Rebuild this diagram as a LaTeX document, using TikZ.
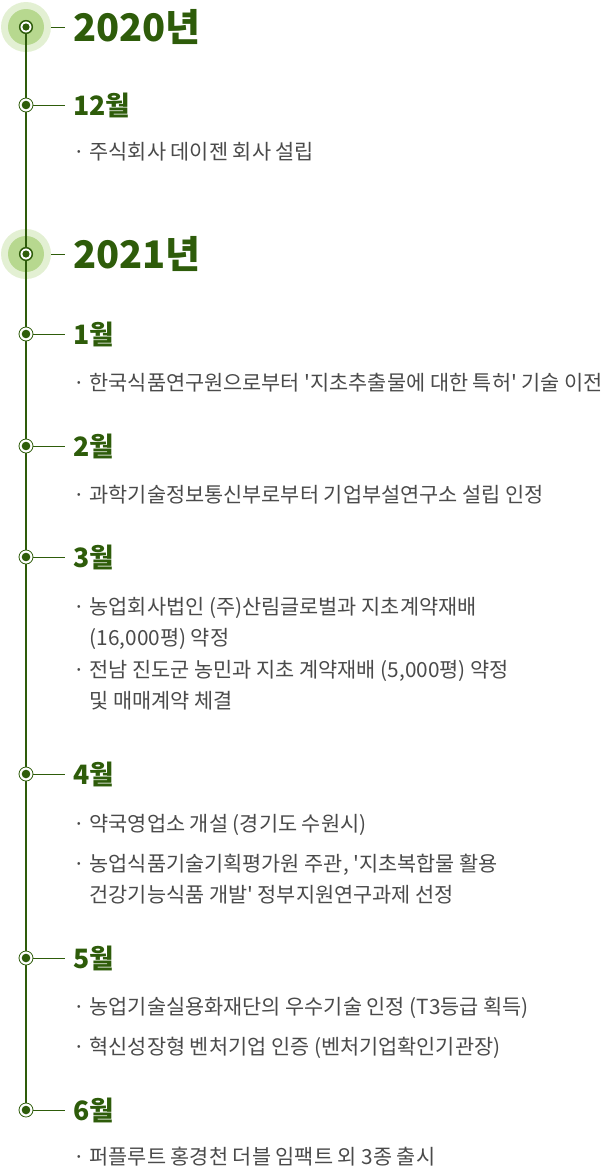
\documentclass[tikz,border=0pt]{standalone}
\usepackage{fontspec}
\setmainfont{Noto Sans CJK KR}
\usetikzlibrary{backgrounds}
\definecolor{leaf}{RGB}{46,92,10}
\definecolor{leafpale}{RGB}{227,240,211}
\definecolor{leaflight}{RGB}{183,216,143}
\definecolor{inktext}{RGB}{74,74,74}

\begin{document}
\begin{tikzpicture}[x=0.75pt,y=0.75pt,yscale=-1,xscale=1,
  halo/.style={circle,fill=leafpale,inner sep=0pt,minimum size=37.5pt},
  yearmark/.style={circle,draw=leaf,line width=1.1pt,fill=white,inner sep=0pt,minimum size=9.5pt},
  monthmark/.style={circle,draw=leaf,line width=0.6pt,fill=white,inner sep=0pt,minimum size=10.5pt},
  yeartitle/.style={anchor=west,inner sep=0pt,inner xsep=6pt,text=leaf,font=\fontsize{28.5}{30}\selectfont\bfseries},
  monthtitle/.style={anchor=west,inner sep=0pt,inner xsep=6pt,text=leaf,font=\fontsize{20}{22}\selectfont\bfseries},
  item/.style={anchor=base west,inner sep=0pt,align=left,text=inktext,font=\fontsize{15.6}{23.25}\selectfont},
  tick/.style={leaf,line width=0.75pt},
  spine/.style={leaf,line width=1.1pt}]
\useasboundingbox (0,0) rectangle (614,1172);

%Year Marks
\node [yearmark] (y20) at (26,27) {};
\node [yearmark] (y21) at (26,254) {};
\fill [leaf] (y20) circle [radius=3.6];
\fill [leaf] (y21) circle [radius=3.6];

%Month Marks
\node [monthmark] (m12) at (26,105) {};
\node [monthmark] (m1) at (26,334) {};
\node [monthmark] (m2) at (26,446) {};
\node [monthmark] (m3) at (26,557) {};
\node [monthmark] (m4) at (26,774) {};
\node [monthmark] (m5) at (26,958) {};
\node [monthmark] (m6) at (26,1110) {};
\fill [leaf] (m12) circle [radius=4.3];
\fill [leaf] (m1) circle [radius=4.3];
\fill [leaf] (m2) circle [radius=4.3];
\fill [leaf] (m3) circle [radius=4.3];
\fill [leaf] (m4) circle [radius=4.3];
\fill [leaf] (m5) circle [radius=4.3];
\fill [leaf] (m6) circle [radius=4.3];

%Halos and Spine
\begin{scope}[on background layer]
\node [halo] (y20h) at (y20) {};
\node [halo] (y21h) at (y21) {};
\fill [leaflight] (y20) circle [radius=18];
\fill [leaflight] (y21) circle [radius=18];
\draw [spine] (y20.center) -- (m6.center);
\end{scope}

% Text Node
\node [yeartitle] (t20) at (65,27) {2020년};
% Text Node
\node [yeartitle] (t21) at (65,254) {2021년};
% Text Node
\node [monthtitle] (t12) at (65,105) {12월};
% Text Node
\node [monthtitle] (t1) at (65,334) {1월};
% Text Node
\node [monthtitle] (t2) at (65,446) {2월};
% Text Node
\node [monthtitle] (t3) at (65,557) {3월};
% Text Node
\node [monthtitle] (t4) at (65,774) {4월};
% Text Node
\node [monthtitle] (t5) at (65,958) {5월};
% Text Node
\node [monthtitle] (t6) at (65,1110) {6월};

%Straight Lines
\draw [tick] (y20h.east) -- (t20.west);
\draw [tick] (y21h.east) -- (t21.west);
\draw [tick] (m12.east) -- (t12.west);
\draw [tick] (m1.east) -- (t1.west);
\draw [tick] (m2.east) -- (t2.west);
\draw [tick] (m3.east) -- (t3.west);
\draw [tick] (m4.east) -- (t4.west);
\draw [tick] (m5.east) -- (t5.west);
\draw [tick] (m6.east) -- (t6.west);

% Text Node
\node [item] (e12a) at (73,159) {· 주식회사 데이젠 회사 설립};
% Text Node
\node [item] (e1a) at (73,390) {· 한국식품연구원으로부터 \textquotesingle 지초추출물에 대한 특허\textquotesingle{} 기술 이전};
% Text Node
\node [item] (e2a) at (73,502) {· 과학기술정보통신부로부터 기업부설연구소 설립 인정};
% Text Node
\node [item] (e3a) at (73,645) {· 농업회사법인 (주)산림글로벌과 지초계약재배\\\hphantom{· }(16,000평) 약정};
% Text Node
\node [item] (e3b) at (73,708) {· 전남 진도군 농민과 지초 계약재배 (5,000평) 약정\\\hphantom{· }및 매매계약 체결};
% Text Node
\node [item] (e4a) at (73,831) {· 약국영업소 개설 (경기도 수원시)};
% Text Node
\node [item] (e4b) at (73,902) {· 농업식품기술기획평가원 주관, \textquotesingle 지초복합물 활용\\\hphantom{· }건강기능식품 개발\textquotesingle{} 정부지원연구과제 선정};
% Text Node
\node [item] (e5a) at (73,1014) {· 농업기술실용화재단의 우수기술 인정 (T3등급 획득)};
% Text Node
\node [item] (e5b) at (73,1054) {· 혁신성장형 벤처기업 인증 (벤처기업확인기관장)};
% Text Node
\node [item] (e6a) at (73,1164) {· 퍼플루트 홍경천 더블 임팩트 외 3종 출시};

\end{tikzpicture}
\end{document}
